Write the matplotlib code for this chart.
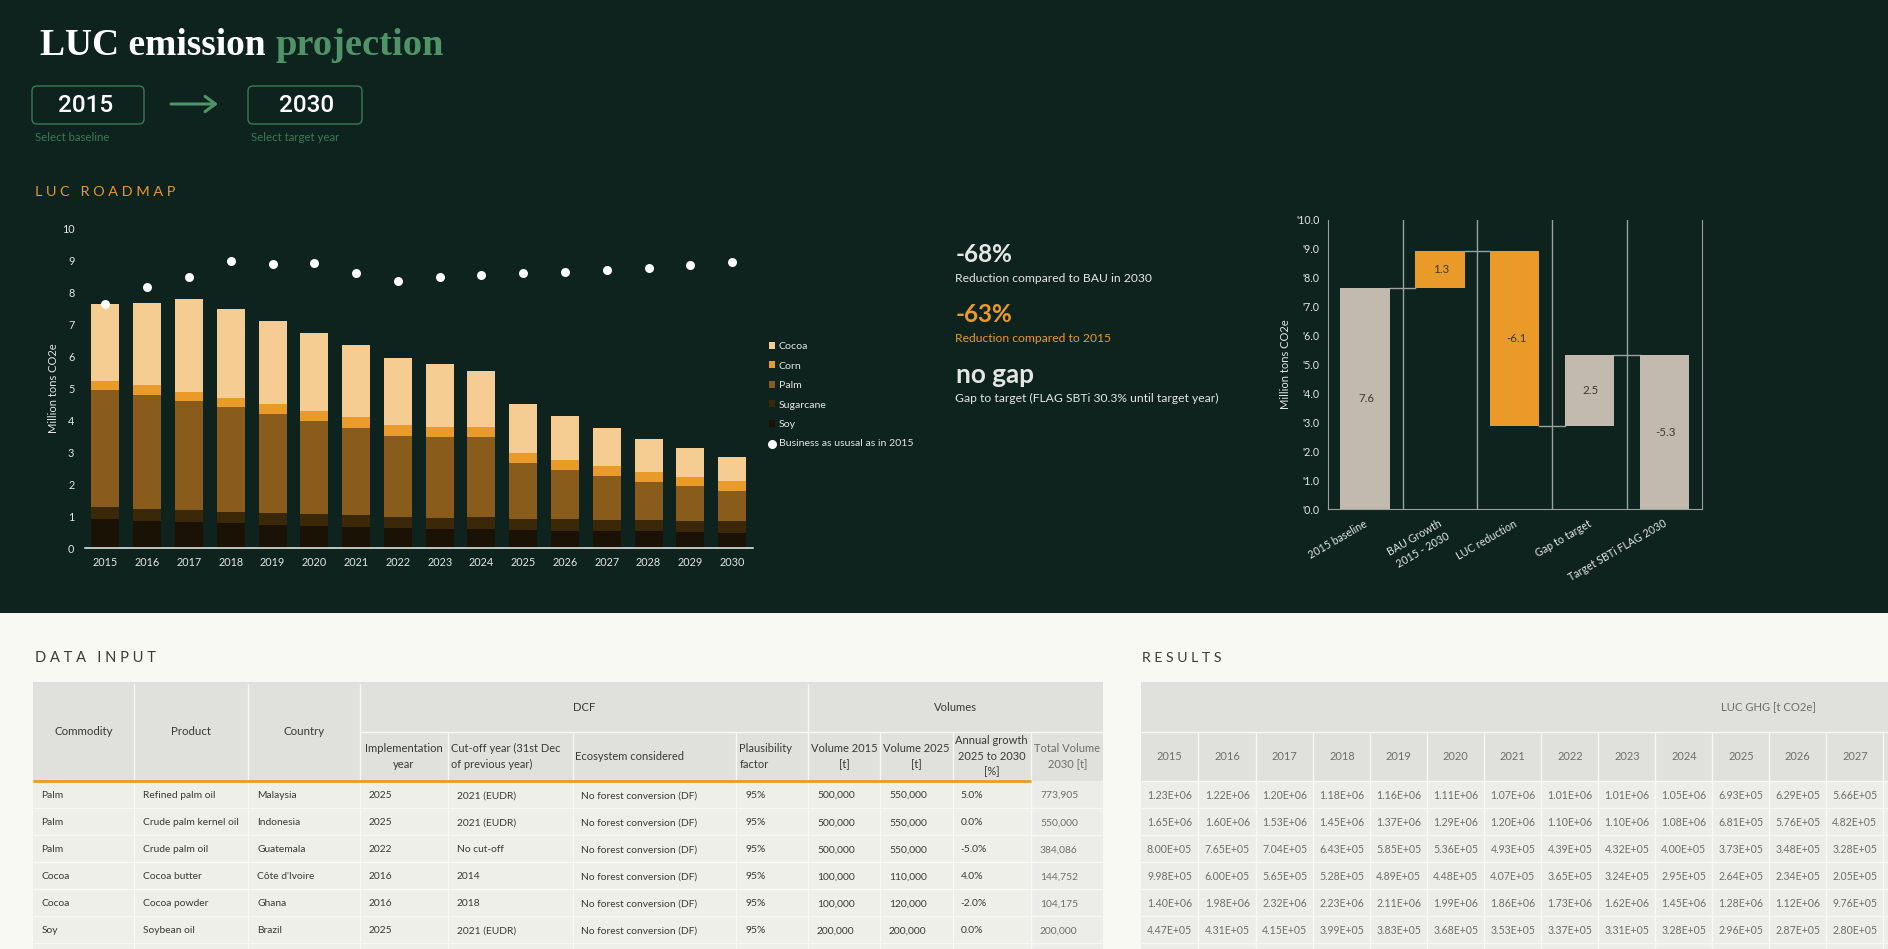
import numpy as np
import matplotlib
matplotlib.use("Agg")
import matplotlib.pyplot as plt
from matplotlib.patches import Rectangle, FancyBboxPatch
from matplotlib.transforms import ScaledTranslation

# ---- data ----
years = list(range(2015, 2031))
soy = [0.92, 0.865, 0.82, 0.78, 0.73, 0.70, 0.66, 0.625, 0.60, 0.60, 0.56, 0.54, 0.53, 0.53, 0.51, 0.49]
sugarcane = [0.36, 0.365, 0.37, 0.355, 0.37, 0.36, 0.37, 0.355, 0.36, 0.37, 0.36, 0.366, 0.366, 0.355, 0.355, 0.375]
palm = [3.67, 3.57, 3.42, 3.285, 3.11, 2.93, 2.74, 2.54, 2.53, 2.52, 1.75, 1.554, 1.364, 1.195, 1.085, 0.935]
corn = [0.29, 0.30, 0.29, 0.28, 0.30, 0.30, 0.32, 0.32, 0.31, 0.30, 0.31, 0.30, 0.31, 0.32, 0.29, 0.31]
cocoa = [2.395, 2.57, 2.89, 2.77, 2.59, 2.44, 2.25, 2.10, 1.95, 1.75, 1.53, 1.365, 1.19, 1.02, 0.885, 0.74]
bau = [7.635, 8.17, 8.48, 8.98, 8.89, 8.92, 8.59, 8.34, 8.48, 8.53, 8.59, 8.64, 8.70, 8.76, 8.84, 8.94]

wf_labels = ["2015 baseline", "BAU Growth\n2015 - 2030", "LUC reduction", "Gap to target", "Target SBTi FLAG 2030"]
wf_bottom = [0, 7.635, 2.87, 2.87, 0]
wf_height = [7.635, 1.295, 6.06, 2.45, 5.32]
wf_text = ["7.6", "1.3", "-6.1", "2.5", "-5.3"]
wf_links = [7.635, 8.93, 2.87, 5.32]

input_rows = [
    ["Palm", "Refined palm oil", "Malaysia", "2025", "2021 (EUDR)", "No forest conversion (DF)", "95%", "500,000", "550,000", "5.0%", "773,905"],
    ["Palm", "Crude palm kernel oil", "Indonesia", "2025", "2021 (EUDR)", "No forest conversion (DF)", "95%", "500,000", "550,000", "0.0%", "550,000"],
    ["Palm", "Crude palm oil", "Guatemala", "2022", "No cut-off", "No forest conversion (DF)", "95%", "500,000", "550,000", "-5.0%", "384,086"],
    ["Cocoa", "Cocoa butter", "Côte d'Ivoire", "2016", "2014", "No forest conversion (DF)", "95%", "100,000", "110,000", "4.0%", "144,752"],
    ["Cocoa", "Cocoa powder", "Ghana", "2016", "2018", "No forest conversion (DF)", "95%", "100,000", "120,000", "-2.0%", "104,175"],
    ["Soy", "Soybean oil", "Brazil", "2025", "2021 (EUDR)", "No forest conversion (DF)", "95%", "200,000", "200,000", "0.0%", "200,000"],
]

result_years = [str(y) for y in range(2015, 2028)]
result_rows = [
    "1.23E+06 1.22E+06 1.20E+06 1.18E+06 1.16E+06 1.11E+06 1.07E+06 1.01E+06 1.01E+06 1.05E+06 6.93E+05 6.29E+05 5.66E+05".split(),
    "1.65E+06 1.60E+06 1.53E+06 1.45E+06 1.37E+06 1.29E+06 1.20E+06 1.10E+06 1.10E+06 1.08E+06 6.81E+05 5.76E+05 4.82E+05".split(),
    "8.00E+05 7.65E+05 7.04E+05 6.43E+05 5.85E+05 5.36E+05 4.93E+05 4.39E+05 4.32E+05 4.00E+05 3.73E+05 3.48E+05 3.28E+05".split(),
    "9.98E+05 6.00E+05 5.65E+05 5.28E+05 4.89E+05 4.48E+05 4.07E+05 3.65E+05 3.24E+05 2.95E+05 2.64E+05 2.34E+05 2.05E+05".split(),
    "1.40E+06 1.98E+06 2.32E+06 2.23E+06 2.11E+06 1.99E+06 1.86E+06 1.73E+06 1.62E+06 1.45E+06 1.28E+06 1.12E+06 9.76E+05".split(),
    "4.47E+05 4.31E+05 4.15E+05 3.99E+05 3.83E+05 3.68E+05 3.53E+05 3.37E+05 3.31E+05 3.28E+05 2.96E+05 2.87E+05 2.80E+05".split(),
]

# ---- colours ----
DARK = "#0E231E"
PAGE = "#F8F9F3"
GREEN = "#4F9367"
BOX = "#3B7A57"
ORANGE = "#EA9A28"
LIGHT = "#E4E7E3"
HEAD = "#E0E1DC"
BODY = "#EFEFE9"
BODY2 = "#ECEDE8"
INK = "#3A3A34"
GREY = "#6E6E69"
STONE = "#C3BAAF"
LINE = "#9BA19D"

W, H = 1888, 949
plt.rcParams["font.family"] = ["Lato", "DejaVu Sans"]

fig = plt.figure(figsize=(W / 100, H / 100), dpi=100, facecolor=PAGE)


def px_axes(left, top, right, bottom, **kw):
    return fig.add_axes([left / W, 1 - bottom / H, (right - left) / W, (bottom - top) / H], **kw)


# background layer in pixel coordinates, used for panels, tables and headings
bg = fig.add_axes([0, 0, 1, 1], zorder=0)
bg.set_xlim(0, W)
bg.set_ylim(H, 0)
bg.axis("off")


def box(x0, y0, x1, y1, color):
    bg.add_patch(Rectangle((x0, y0), x1 - x0, y1 - y0, fc=color, ec="none"))


def label(x, y, s, size=7.4, color=INK, ha="left", **kw):
    # the +1 brings Lato's optical centre onto the row centre
    bg.text(x, y + 1, s, fontsize=size, color=color, ha=ha, va="center", **kw)


def rules(x_list, top, bottom_):
    bg.vlines(x_list, top, bottom_, color=PAGE, lw=1, zorder=3)


# ---- dark panel and top controls ----
box(0, 0, W, 613, DARK)
bg.text(40, 54.5, "LUC emission ", fontsize=27, color="white", family="Liberation Serif",
        fontweight="bold", va="baseline")
bg.text(276, 54.5, "projection", fontsize=27.7, color=GREEN, family="Liberation Serif",
        fontweight="bold", va="baseline")

for x0, x1, year, tx, note, nx in [(32, 144, "2015", 85.7, "Select baseline", 35.3),
                                   (248, 362, "2030", 306.7, "Select target year", 251)]:
    bg.add_patch(FancyBboxPatch((x0 + 4, 90), x1 - x0 - 8, 30, boxstyle="round,pad=4,rounding_size=5",
                                fc="none", ec=BOX, lw=1.0))
    label(tx, 104, year, size=17.5, color="white", ha="center", family="Roboto", fontweight="medium")
    label(nx, 136.5, note, size=8.2, color=BOX)

bg.annotate("", xy=(218, 104), xytext=(171, 104),
            arrowprops=dict(arrowstyle="->,head_length=0.75,head_width=0.55", color=GREEN, lw=2.2, shrinkA=0, shrinkB=0))
label(35.3, 191, "L U C   R O A D M A P", size=10.4, color=ORANGE)

# ---- stacked bars ----
ax = px_axes(84.6, 228.3, 753, 548.3, zorder=2)
ax.patch.set_alpha(0)
series = [("Soy", soy, "#1B1206"), ("Sugarcane", sugarcane, "#3B2808"), ("Palm", palm, "#8A5C1B"),
          ("Corn", corn, ORANGE), ("Cocoa", cocoa, "#F5CD92")]
bottom = np.zeros(len(years))
handles = {}
for name, vals, col in series:
    handles[name] = ax.bar(years, vals, width=0.67, bottom=bottom, color=col, label=name)
    bottom += np.array(vals)
handles["BAU"] = ax.scatter(years, bau, s=42, color="white", zorder=5, linewidths=0,
                            label="Business as ususal as in 2015")
ax.set_xlim(2014.5, 2030.5)
ax.set_ylim(0, 10)
ax.set_xticks(years)
ax.set_yticks(range(0, 11))
ax.tick_params(length=0, labelcolor=LIGHT, labelsize=7.8)
ax.tick_params(axis="y", pad=7.4)
ax.tick_params(axis="x", pad=6)
for s in ["top", "left", "right"]:
    ax.spines[s].set_visible(False)
ax.spines["bottom"].set_color("#F2F2EE")
ax.spines["bottom"].set_linewidth(1.1)
ax.set_ylabel("Million tons CO2e", fontsize=8, color=LIGHT, labelpad=2)

order = ["Cocoa", "Corn", "Palm", "Sugarcane", "Soy", "BAU"]
leg = ax.legend([handles[k] for k in order], [handles[k].get_label() for k in order],
                loc="upper left", bbox_to_anchor=(768.5 / W, 1 - 342 / H), bbox_transform=fig.transFigure,
                frameon=False, fontsize=7.55, labelcolor=LIGHT, handlelength=0.65, handleheight=0.65,
                handletextpad=0.35, labelspacing=0.98, borderpad=0, borderaxespad=0, scatterpoints=1)

# ---- KPI column ----
label(956, 253, "-68%", size=17.5, color=LIGHT, fontweight="bold")
label(955.3, 277, "Reduction compared to BAU in 2030", size=8.7, color=LIGHT)
label(956, 313, "-63%", size=17.5, color=ORANGE, fontweight="bold")
label(955.3, 337, "Reduction compared to 2015", size=8.7, color=ORANGE)
label(956, 374, "no gap", size=18.8, color=LIGHT, fontweight="bold")
label(955.3, 397, "Gap to target (FLAG SBTi 30.3% until target year)", size=8.7, color=LIGHT)

# ---- waterfall ----
wf = px_axes(1327.7, 220, 1701.7, 509, zorder=2)
wf.patch.set_alpha(0)
xs = np.arange(len(wf_labels))
wf_colors = [STONE, ORANGE, ORANGE, STONE, STONE]
wf.bar(xs, wf_height, bottom=wf_bottom, width=0.66, color=wf_colors, zorder=3)
for i, s in enumerate(wf_text):
    wf.text(i + 0.02, wf_bottom[i] + wf_height[i] / 2, s, ha="center", va="center", fontsize=8.3, color=INK, zorder=4)
for i, y in enumerate(wf_links):
    wf.plot([i + 0.33, i + 0.67], [y, y], color=LINE, lw=1, zorder=2)
wf.set_xlim(-0.5, 4.5)
wf.set_ylim(0, 10)
wf.set_yticks(range(0, 11))
wf.set_yticklabels(["'%.1f" % v for v in range(0, 11)])
wf.set_xticks(xs)
wf.set_xticklabels(wf_labels, rotation=30, ha="right", rotation_mode="anchor", linespacing=1.35)
wf.set_xticks(xs[:-1] + 0.5, minor=True)
wf.grid(which="minor", axis="x", color=LINE, lw=1)
wf.tick_params(which="both", length=0, labelcolor=LIGHT, labelsize=7.7)
wf.tick_params(axis="y", pad=6)
wf.tick_params(axis="x", pad=6.5)
# the rotated labels sit a little to the left of the band centres
for lbl in wf.get_xticklabels():
    lbl.set_transform(lbl.get_transform() + ScaledTranslation(-1 / 72, 0, fig.dpi_scale_trans))
wf.spines["top"].set_visible(False)
for s in ["left", "right", "bottom"]:
    wf.spines[s].set_color(LINE)
wf.set_ylabel("Million tons CO2e", fontsize=8, color=LIGHT, labelpad=3.5)

# ---- data input table ----
row_y = [781, 808.3, 835.3, 862.3, 889.3, 916.3, 943.3, H]
in_x = [32.5, 134.3, 248.2, 360.4, 448.2, 572.5, 736.4, 808.2, 880.4, 952.5, 1031.4, 1102.9]
in_text_x = [41.4, 142.9, 257, 369, 457, 581.4, 745, 817, 889, 960.7, 1040]

box(in_x[0], 682, in_x[-1], 781, HEAD)
box(in_x[0], 781, in_x[-1], H, BODY)
box(in_x[-2], 781, in_x[-1], H, BODY2)
rules(in_x[1:3], 684, H)
rules([in_x[3], in_x[7]], 684, H)
rules(in_x[4:7] + in_x[8:11], 732, H)
bg.hlines(732.3, in_x[3], in_x[-1], color=PAGE, lw=1, zorder=3)
bg.hlines(row_y[1:-1], in_x[0], in_x[-1], color=PAGE, lw=1, zorder=3)
bg.hlines(781, in_x[0], in_x[-2], color=ORANGE, lw=2, zorder=4)

label(35.4, 657, "D A T A   I N P U T", size=10.5, color=INK)
for cx, s in [(83.6, "Commodity"), (191.4, "Product"), (304, "Country")]:
    label(cx, 730.5, s, size=8.3, ha="center")
label(584, 706.5, "DCF", size=8.1, ha="center")
label(955.4, 706.5, "Volumes", size=8.1, ha="center")
label(404, 755.5, "Implementation\nyear", size=8.1, ha="center", linespacing=1.5)
label(451, 755.5, "Cut-off year (31st Dec\nof previous year)", size=7.9, linespacing=1.5)
label(575.4, 755.5, "Ecosystem considered", size=8)
label(739.3, 755.5, "Plausibility\nfactor", size=8, linespacing=1.5)
label(844.6, 755.5, "Volume 2015\n[t]", size=8, ha="center", linespacing=1.5)
label(916, 755.5, "Volume 2025\n[t]", size=8, ha="center", linespacing=1.5)
label(991.8, 755.5, "Annual growth\n2025 to 2030\n[%]", size=8, ha="center", linespacing=1.5)
label(1067.5, 755.5, "Total Volume\n2030 [t]", size=8, color=GREY, ha="center", linespacing=1.5)

for r, row in enumerate(input_rows):
    yc = (row_y[r] + row_y[r + 1]) / 2
    for c, s in enumerate(row):
        label(in_text_x[c], yc, s, size=7.4, color=GREY if c == 10 else INK)

# ---- results table ----
res_x = [1140.7, 1198.3, 1256.3, 1313.3, 1370.3, 1427.3, 1484.3, 1541.3, 1598.3, 1655.3, 1712.3, 1769.3, 1826.3, 1883.3]

box(res_x[0], 682, W, 781, HEAD)
box(res_x[0], 781, W, H, BODY2)
rules(res_x[1:], 732, H)
bg.hlines(732.3, res_x[0], W, color=PAGE, lw=1, zorder=3)
bg.hlines(row_y[:-1], res_x[0], W, color=PAGE, lw=1, zorder=3)

label(1142.5, 657, "R E S U L T S", size=10.2, color=INK)
label(1768.7, 706.5, "LUC GHG [t CO2e]", size=8.1, color=GREY, ha="center")
for i, s in enumerate(result_years):
    label((res_x[i] + res_x[i + 1]) / 2, 755.5, s, size=7.9, color=GREY, ha="center")
for r, row in enumerate(result_rows):
    yc = (row_y[r] + row_y[r + 1]) / 2
    for c, s in enumerate(row):
        label((res_x[c] + res_x[c + 1]) / 2, yc, s, size=7.6, color=GREY, ha="center")

fig.savefig("out.png", dpi=100, facecolor=PAGE)
